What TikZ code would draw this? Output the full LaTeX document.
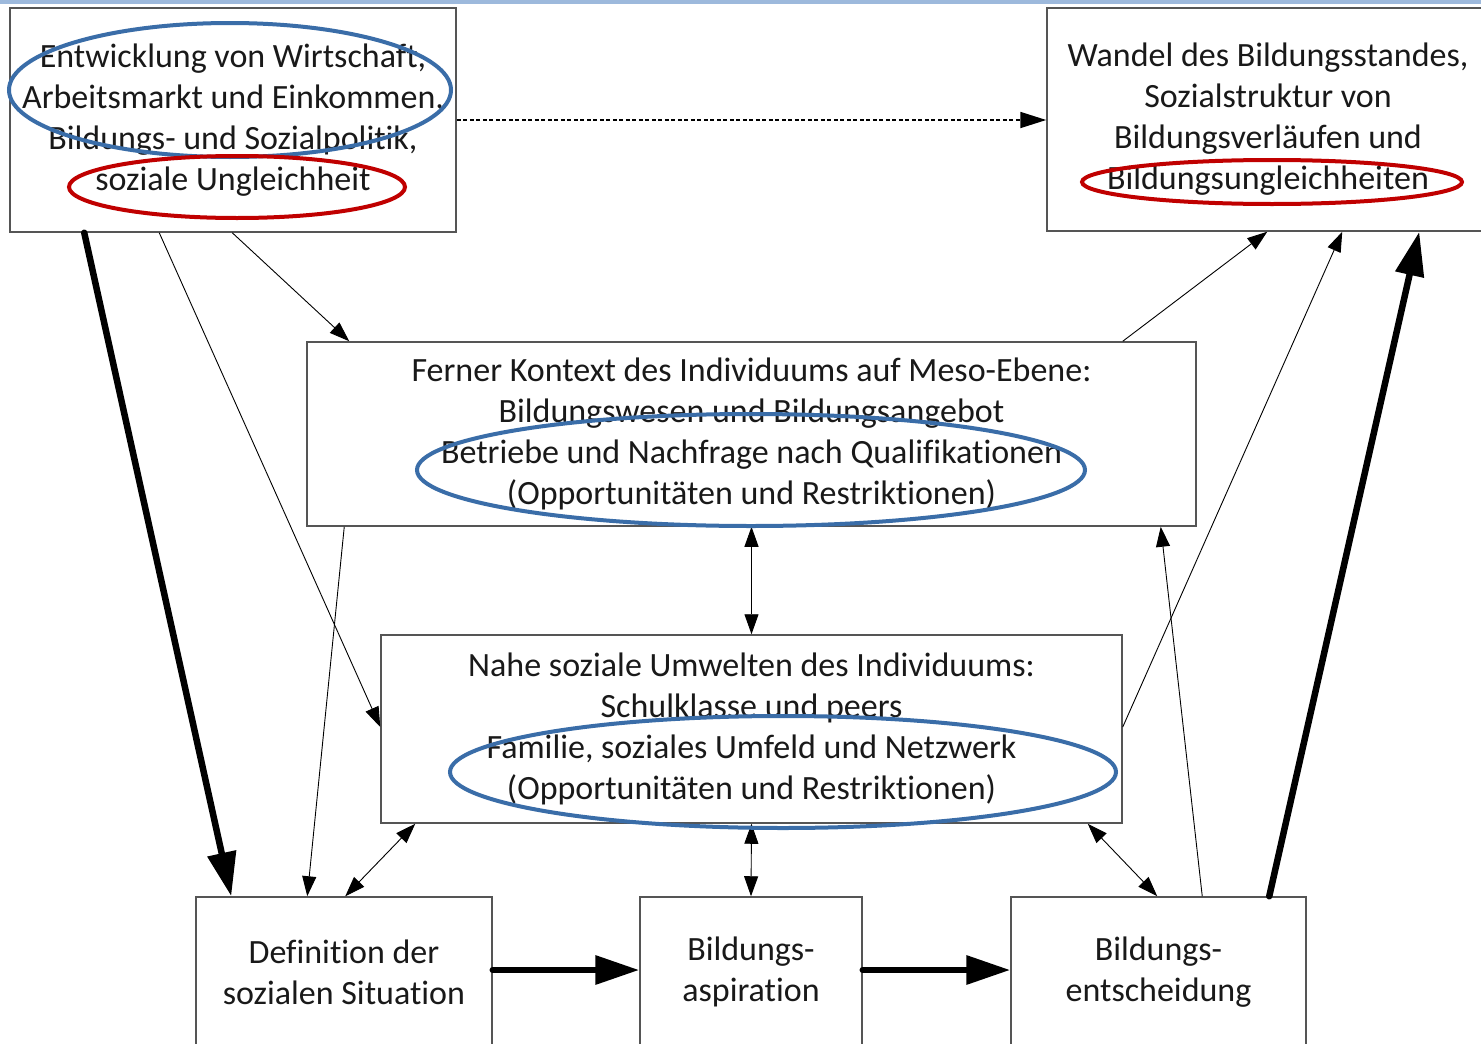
\documentclass[tikz,border=0pt]{standalone}
\usepackage{fontspec}
\setmainfont{Carlito}[RawFeature={-liga;-clig;-calt;-dlig}]
\usetikzlibrary{arrows.meta,calc}
\definecolor{boxgray}{HTML}{555555}
\definecolor{ellblue}{HTML}{3A6DA8}
\definecolor{ellred}{HTML}{C00000}
\definecolor{topband}{HTML}{9DB9DC}
\begin{document}
\begin{tikzpicture}[x=1pt,y=-1pt,
  box/.style={draw=boxgray, line width=1.5pt, fill=white, align=center, inner sep=0pt,
    font=\fontsize{34}{41}\selectfont, text=black!90},
  thin arrow/.style={line width=0.9pt, -{Triangle[length=20pt,width=14pt]}},
  dbl arrow/.style={line width=0.9pt, {Triangle[length=20pt,width=14pt]}-{Triangle[length=20pt,width=14pt]}},
  thick arrow/.style={line width=6.5pt, line cap=round, -{Triangle[length=44pt,width=28pt]}},
  blueell/.style={draw=ellblue, line width=4pt},
  redell/.style={draw=ellred, line width=4pt}]
\useasboundingbox (0,0) rectangle (1481,1044);
\clip (0,0) rectangle (1481,1044);
\fill[topband] (0,0) rectangle (1481,3.5);

\node[box, minimum width=446pt, minimum height=224pt] (tl) at (233,120)
  {Entwicklung von Wirtschaft,\\Arbeitsmarkt und Einkommen,\\Bildungs- und Sozialpolitik,\\soziale Ungleichheit};
\node[box, minimum width=442pt, minimum height=223pt] (tr) at (1268,119.5)
  {Wandel des Bildungsstandes,\\Sozialstruktur von\\Bildungsverläufen und\\Bildungsungleichheiten};
\node[box, minimum width=889pt, minimum height=184pt] (meso) at (751.5,434)
  {Ferner Kontext des Individuums auf Meso-Ebene:\\Bildungswesen und Bildungsangebot\\Betriebe und Nachfrage nach Qualifikationen\\(Opportunitäten und Restriktionen)};
\node[box, minimum width=741pt, minimum height=188pt] (nahe) at (751.5,729)
  {Nahe soziale Umwelten des Individuums:\\Schulklasse und peers\\Familie, soziales Umfeld und Netzwerk\\(Opportunitäten und Restriktionen)};
\node[box, minimum width=296pt, minimum height=150pt] (def) at (344,972)
  {Definition der\\sozialen Situation};
\node[box, minimum width=222pt, minimum height=150pt] (asp) at (751,972)
  {Bildungs-\\aspiration};
\node[box, minimum width=295pt, minimum height=150pt] (ent) at (1158.5,972)
  {Bildungs-\\entscheidung};

% connectors
\draw[line width=1.8pt, dash pattern=on 4pt off 2.5pt, -{Triangle[length=26pt,width=16pt]}]
  (tl.east) -- (tl.east -| tr.west);
\draw[thick arrow] ($(tl.south west)+(75,0)$) -- ($(def.north west)+(36,0)$);
\draw[thin arrow] ($(tl.south west)+(150,0)$) -- ($(nahe.west)+(0,-2)$);
\draw[thin arrow] ($(tl.south west)+(223,0)$) -- ($(meso.north west)+(43,0)$);
\draw[thin arrow] ($(meso.south west)+(38,0)$) -- ($(def.north west)+(112,0)$);
\draw[dbl arrow] ($(nahe.south west)+(35,0)$) -- ($(def.north west)+(150,0)$);
\draw[dbl arrow] (meso.south) -- (nahe.north);
\draw[dbl arrow] (nahe.south) -- (asp.north);
\draw[dbl arrow] ($(nahe.south east)+(-35,0)$) -- ($(ent.north west)+(147,0)$);
\draw[thin arrow] ($(ent.north west)+(192,0)$) -- ($(meso.south east)+(-36,0)$);
\draw[thin arrow] ($(nahe.east)+(0,-2)$) -- ($(tr.south west)+(296,0)$);
\draw[thin arrow] ($(meso.north east)+(-74,0)$) -- ($(tr.south west)+(221,0)$);
\draw[thick arrow] ($(ent.north west)+(259,0)$) -- ($(tr.south west)+(373,0)$);
\draw[thick arrow] (def.east |- 0,970) -- (asp.west |- 0,970);
\draw[thick arrow] (asp.east |- 0,970) -- (ent.west |- 0,970);

% highlight ellipses
\draw[blueell] (230,90) ellipse [x radius=221, y radius=67];
\draw[redell] (237,187) ellipse [x radius=168, y radius=31];
\draw[redell] (1272,182) ellipse [x radius=190, y radius=22];
\draw[blueell] (751,470) ellipse [x radius=334, y radius=56];
\draw[blueell] (783,772) ellipse [x radius=333, y radius=56];
\end{tikzpicture}
\end{document}
